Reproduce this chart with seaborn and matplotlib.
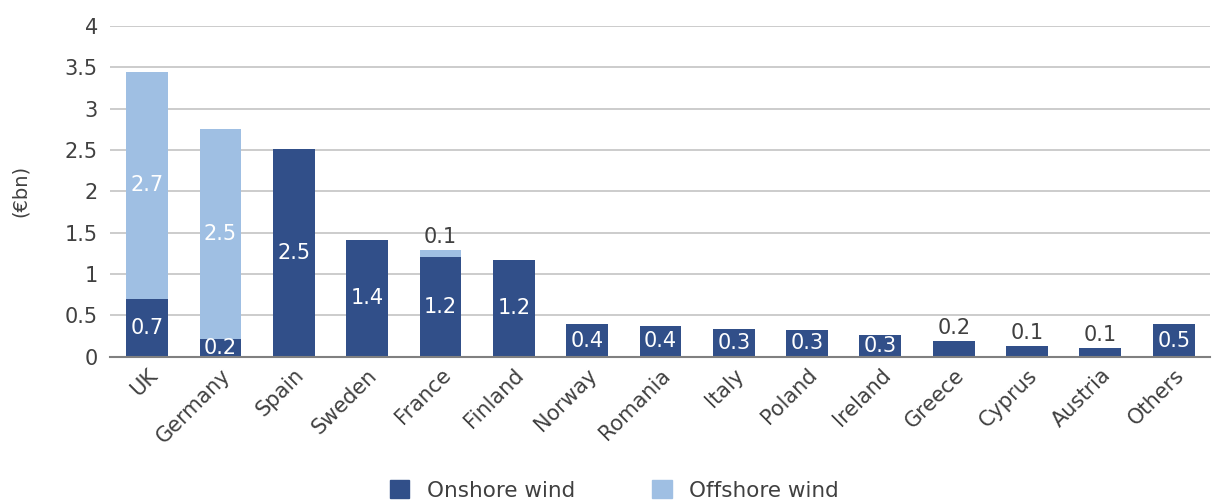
import pandas as pd
import seaborn as sns
from matplotlib import pyplot as plt
from matplotlib.patches import Patch

countries = ['UK', 'Germany', 'Spain', 'Sweden', 'France', 'Finland', 'Norway', 'Romania',
             'Italy', 'Poland', 'Ireland', 'Greece', 'Cyprus', 'Austria', 'Others']
onshore = [0.70, 0.21, 2.51, 1.41, 1.21, 1.17, 0.39, 0.37, 0.33, 0.32, 0.26, 0.19, 0.125, 0.10, 0.39]
offshore = [2.75, 2.54, 0, 0, 0.08, 0, 0, 0, 0, 0, 0, 0, 0, 0, 0]
onshore_labels = ['0.7', '0.2', '2.5', '1.4', '1.2', '1.2', '0.4', '0.4', '0.3', '0.3', '0.3',
                  '0.2', '0.1', '0.1', '0.5']
offshore_labels = ['2.7', '2.5', '', '', '0.1', '', '', '', '', '', '', '', '', '', '']

NAVY = '#314f89'
LIGHT = '#9fbfe3'
GREY = '#404040'
FS = 15

df = pd.DataFrame({'country': countries, 'onshore': onshore, 'offshore': offshore})
df['total'] = df.onshore + df.offshore

sns.set_theme(style='white')
plt.rcParams['font.family'] = ['DejaVu Sans']

fig = plt.figure(figsize=(12.14, 5.03), dpi=100)
ax = fig.add_axes([0.091, 0.291, 0.906, 0.657])

sns.barplot(df, x='country', y='total', color=LIGHT, width=0.57, saturation=1,
            linewidth=0, ax=ax)
sns.barplot(df, x='country', y='onshore', color=NAVY, width=0.57, saturation=1,
            linewidth=0, ax=ax)

for i, row in df.iterrows():
    # tiny onshore-only bars get the label above, the rest inside
    if row.onshore < 0.25 and row.offshore == 0:
        ax.text(i, row.onshore + 0.04, onshore_labels[i], ha='center', va='bottom',
                color=GREY, fontsize=FS)
    else:
        ax.text(i, row.onshore / 2, onshore_labels[i], ha='center', va='center',
                color='white', fontsize=FS)
    if offshore_labels[i]:
        if row.offshore >= 0.3:
            ax.text(i, row.onshore + row.offshore / 2, offshore_labels[i], ha='center',
                    va='center', color='white', fontsize=FS)
        else:
            ax.text(i, row.total + 0.04, offshore_labels[i], ha='center', va='bottom',
                    color=GREY, fontsize=FS)

ax.set_ylim(0, 4)
ax.set_yticks([0, 0.5, 1, 1.5, 2, 2.5, 3, 3.5, 4])
ax.set_yticklabels(['0', '0.5', '1', '1.5', '2', '2.5', '3', '3.5', '4'])
ax.set_xlim(-0.5, len(countries) - 0.5)
ax.yaxis.grid(True, color='#c8c8c8', linewidth=1.3)
ax.set_axisbelow(True)
for s in ['left', 'right', 'top']:
    ax.spines[s].set_visible(False)
ax.spines['bottom'].set_color('#808080')
ax.spines['bottom'].set_linewidth(1.5)
ax.tick_params(axis='y', labelsize=FS, labelcolor=GREY, length=0, pad=9)
ax.tick_params(axis='x', labelsize=FS, labelcolor=GREY, length=0, pad=6)
plt.setp(ax.get_xticklabels(), rotation=45, ha='right', rotation_mode='anchor')
ax.set_xlabel('')
ax.set_ylabel('(€bn)', fontsize=14, color=GREY)
ax.yaxis.set_label_coords(-0.073, 0.5)

handles = [Patch(color=NAVY, label='Onshore wind'), Patch(color=LIGHT, label='Offshore wind')]
fig.legend(handles=handles, loc='center', bbox_to_anchor=(0.506, 0.025), ncol=2,
           frameon=False, fontsize=15.5, labelcolor=GREY, handlelength=0.9, handleheight=0.9,
           columnspacing=3.6, handletextpad=0.8)

fig.savefig('out.png', dpi=100)
